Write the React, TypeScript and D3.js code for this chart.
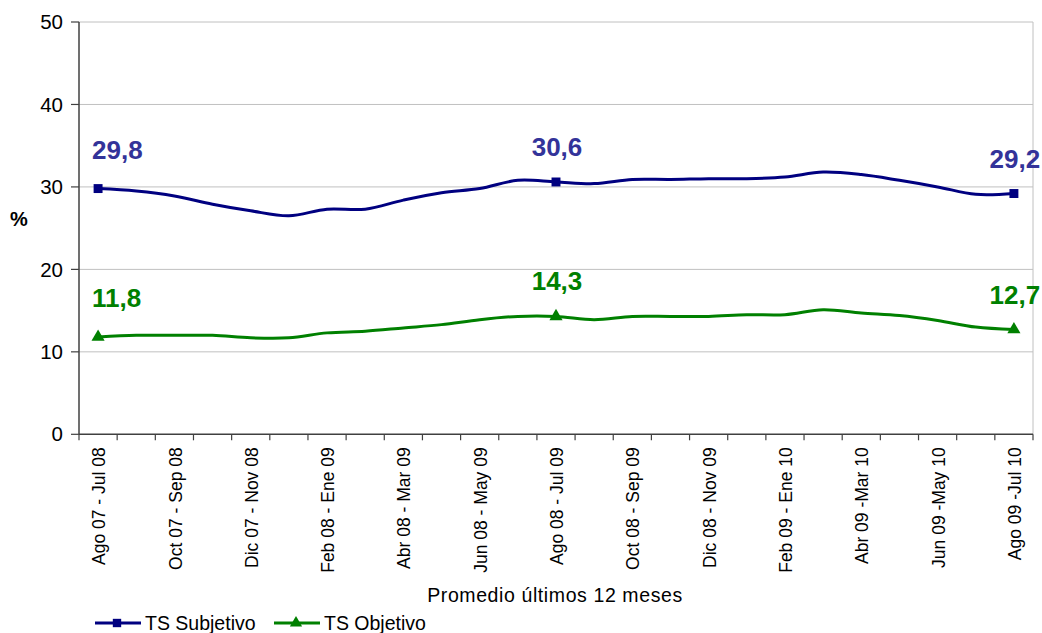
import React, { useEffect, useRef } from "react";
import * as d3 from "d3";

const categories: string[] = [
  "Ago 07 - Jul 08", "Sep 07 - Ago 08", "Oct 07 - Sep 08", "Nov 07 - Oct 08",
  "Dic 07 - Nov 08", "Ene 08 - Dic 08", "Feb 08 - Ene 09", "Mar 08 - Feb 09",
  "Abr 08 - Mar 09", "May 08 - Abr 09", "Jun 08 - May 09", "Jul 08 - Jun 09",
  "Ago 08 - Jul 09", "Sep 08 - Ago 09", "Oct 08 - Sep 09", "Nov 08 - Oct 09",
  "Dic 08 - Nov 09", "Ene 09 - Dic 09", "Feb 09 - Ene 10", "Mar 09 - Feb 10",
  "Abr 09 -Mar 10", "May 09 - Abr 10", "Jun 09 -May 10", "Jul 09 - Jun 10",
  "Ago 09 -Jul 10",
];

const subjetivo: number[] = [
  29.8, 29.5, 28.9, 27.9, 27.1, 26.5, 27.3, 27.3, 28.4, 29.3, 29.8, 30.8,
  30.6, 30.4, 30.9, 30.9, 31.0, 31.0, 31.2, 31.8, 31.5, 30.8, 30.0, 29.1, 29.2,
];

const objetivo: number[] = [
  11.8, 12.0, 12.0, 12.0, 11.7, 11.7, 12.3, 12.5, 12.9, 13.3, 13.9, 14.3,
  14.3, 13.9, 14.3, 14.3, 14.3, 14.5, 14.5, 15.1, 14.7, 14.4, 13.8, 13.0, 12.7,
];

const yTicks: number[] = [0, 10, 20, 30, 40, 50];
const labeledIdx: number[] = [0, 12, 24];
const seriesNames: string[] = ["TS Subjetivo", "TS Objetivo"];

const FONT = "'Liberation Sans', Arial, sans-serif";

export default function App() {
  const ref = useRef<SVGSVGElement | null>(null);

  useEffect(() => {
    const svg = d3.select(ref.current);
    svg.selectAll("*").remove();

    const left = 79, right = 1033, top = 22, bottom = 434.3;
    const x = d3.scaleBand<string>().domain(categories).range([left, right]).padding(0);
    const cx = (i: number) => (x(categories[i]) as number) + x.bandwidth() / 2;
    const y = d3.scaleLinear().domain([0, 50]).range([bottom, top]);

    // gridlines
    svg.append("g").selectAll("line").data(yTicks.filter((t) => t > 0)).join("line")
      .attr("x1", left).attr("x2", right)
      .attr("y1", (d) => y(d)).attr("y2", (d) => y(d))
      .attr("stroke", "#c0c0c0").attr("stroke-width", 1);
    // right border
    svg.append("line").attr("x1", right).attr("x2", right).attr("y1", top).attr("y2", bottom)
      .attr("stroke", "#c0c0c0").attr("stroke-width", 1);

    // y axis
    svg.append("line").attr("x1", left).attr("x2", left).attr("y1", top).attr("y2", bottom)
      .attr("stroke", "#404040").attr("stroke-width", 1.5);
    const yg = svg.append("g");
    yg.selectAll("line").data(yTicks).join("line")
      .attr("x1", left - 8).attr("x2", left).attr("y1", (d) => y(d)).attr("y2", (d) => y(d))
      .attr("stroke", "#404040").attr("stroke-width", 1.2);
    yg.selectAll("text").data(yTicks).join("text")
      .attr("x", left - 16).attr("y", (d) => y(d)).attr("dy", "0.35em")
      .attr("text-anchor", "end").attr("font-family", FONT).attr("font-size", 20.5)
      .attr("fill", "#000").text((d) => String(d));
    svg.append("text").attr("x", 19).attr("y", 226).attr("text-anchor", "middle")
      .attr("font-family", FONT).attr("font-size", 20).attr("font-weight", "bold").text("%");

    // x axis
    svg.append("line").attr("x1", left).attr("x2", right).attr("y1", bottom).attr("y2", bottom)
      .attr("stroke", "#404040").attr("stroke-width", 1.5);
    const tickPos = categories.map((c) => x(c) as number).concat([right]);
    svg.append("g").selectAll("line").data(tickPos).join("line")
      .attr("x1", (d) => d).attr("x2", (d) => d).attr("y1", bottom).attr("y2", bottom + 6)
      .attr("stroke", "#404040").attr("stroke-width", 1.2);
    svg.append("g").selectAll("text")
      .data(categories.map((c, i) => ({ c, i })).filter((d) => d.i % 2 === 0)).join("text")
      .attr("transform", (d) => `translate(${cx(d.i) + 1},${bottom + 13}) rotate(-90)`)
      .attr("text-anchor", "end").attr("dy", "0.35em")
      .attr("font-family", FONT).attr("font-size", 17.5).attr("fill", "#000")
      .text((d) => d.c);
    svg.append("text").attr("x", 555).attr("y", 602).attr("text-anchor", "middle")
      .attr("font-family", FONT).attr("font-size", 19.5).attr("fill", "#000")
      .attr("letter-spacing", 0.6)
      .text("Promedio últimos 12 meses");

    const line = d3.line<number>()
      .x((_, i) => cx(i)).y((d) => y(d))
      .curve(d3.curveCatmullRom.alpha(0.5));

    const series = [
      { vals: subjetivo, color: "#000080", label: "#333399", sym: d3.symbolSquare, size: 80 },
      { vals: objetivo, color: "#008000", label: "#008000", sym: d3.symbolTriangle, size: 75 },
    ];

    series.forEach((s) => {
      svg.append("path").attr("d", line(s.vals) as string)
        .attr("fill", "none").attr("stroke", s.color).attr("stroke-width", 3);
      svg.append("g").selectAll("path").data(labeledIdx).join("path")
        .attr("transform", (i) => `translate(${cx(i)},${y(s.vals[i])})`)
        .attr("d", d3.symbol().type(s.sym).size(s.size)() as string)
        .attr("fill", s.color);
      svg.append("g").selectAll("text").data(labeledIdx).join("text")
        .attr("x", (i) => (i === 0 ? cx(i) - 6 : i === 24 ? cx(i) + 1 : cx(i) + 1))
        .attr("y", (i) => y(s.vals[i]) - (i === 0 ? 30 : 26))
        .attr("text-anchor", (i) => (i === 0 ? "start" : "middle"))
        .attr("font-family", FONT).attr("font-size", 26).attr("font-weight", "bold")
        .attr("fill", s.label)
        .text((i) => s.vals[i].toFixed(1).replace(".", ","));
    });

    // legend
    const legendItems = [
      { name: seriesNames[0], color: "#000080", sym: d3.symbolSquare, x0: 95, size: 70 },
      { name: seriesNames[1], color: "#008000", sym: d3.symbolTriangle, x0: 274, size: 65 },
    ];
    const ly = 623;
    legendItems.forEach((it) => {
      svg.append("line").attr("x1", it.x0).attr("x2", it.x0 + 46).attr("y1", ly).attr("y2", ly)
        .attr("stroke", it.color).attr("stroke-width", 3);
      svg.append("path").attr("transform", `translate(${it.x0 + 22},${ly})`)
        .attr("d", d3.symbol().type(it.sym).size(it.size)() as string).attr("fill", it.color);
      svg.append("text").attr("x", it.x0 + 50).attr("y", ly).attr("dy", "0.35em")
        .attr("font-family", FONT).attr("font-size", 19.5).attr("fill", "#000").text(it.name);
    });
  }, []);

  return (
    <svg ref={ref} width={1042} height={633}
      style={{ position: "absolute", left: 0, top: 0, background: "#fff" }} />
  );
}
